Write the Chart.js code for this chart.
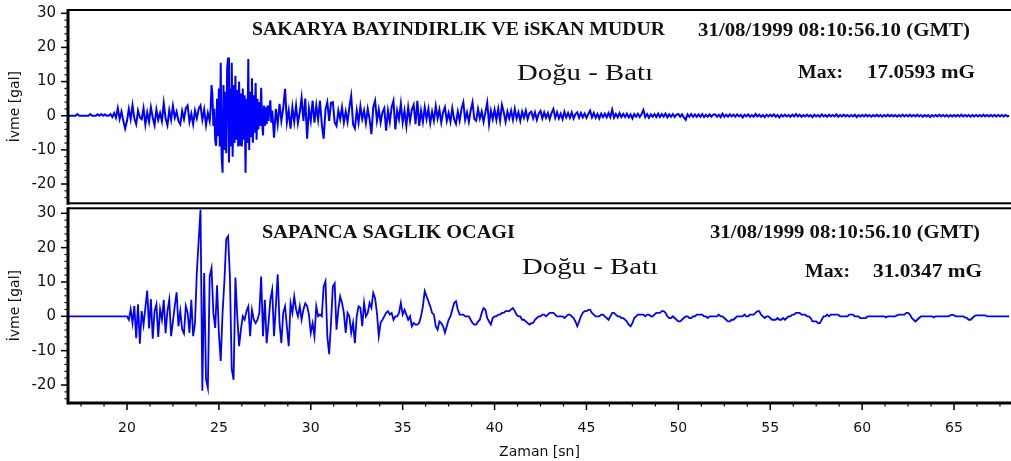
<!DOCTYPE html>
<html>
<head>
<meta charset="utf-8">
<script src="https://cdn.jsdelivr.net/npm/chart.js@4.4.1/dist/chart.umd.min.js"></script>
<style>
  html, body { margin: 0; padding: 0; background: #fff; overflow: hidden; }
  #wrap { position: relative; width: 1011px; height: 461px; background: #fff; }
  canvas { position: absolute; left: 0; }
  #topPanel { top: 0; width: 1011px; height: 206px; }
  #bottomPanel { top: 200px; width: 1011px; height: 261px; }
</style>
</head>
<body>
<div id="wrap">
  <canvas id="topPanel" width="1011" height="206"></canvas>
  <canvas id="bottomPanel" width="1011" height="261"></canvas>
</div>
<script>
// Station names and record header
const topStation = 'SAKARYA BAYINDIRLIK VE iSKAN MUDUR';
const bottomStation = 'SAPANCA SAGLIK OCAGI';
const recordTime = '31/08/1999 08:10:56.10 (GMT)';
const component = 'Doğu - Batı';

// Axis labels
const xLabelValues = [20, 25, 30, 35, 40, 45, 50, 55, 60, 65];
const yLabelValues = [-20, -10, 0, 10, 20, 30];

// Sakarya, east-west acceleration (gal)
// pre-event and P wave: 16.0 s to 24.4 s every 0.1 s
const sakaryaPre = [
  0, 0, 0, 0, 0, 0, 0, 0, 0, 0,
  0, 0, 0, 0.5, 0, 0, 0, 0, 0, 0,
  0.5, 0, 0, 0, 0.4, 0, 0.5, 0, 0.4, 0,
  0, 0.5, -0.4, 0.8, -0.6, 2.2, -1.0, 1.2, -1.5, -3.8,
  -1.5, 2.0, -1.0, 3.1, -0.8, -2.5, 1.5, -0.5, -1.0, 2.2,
  -2.6, 1.0, -1.8, 2.5, -0.5, -2.8, 1.8, -1.2, 0.8, -1.6,
  3.7, -0.8, -2.8, 1.6, -1.2, 2.9, -0.6, 1.2, -1.5, -2.5,
  1.4, -1.0, 2.2, 3.0, -1.8, 0.6, -2.5, 1.5, -0.8, 2.0,
  3.0, -1.2, 1.8, -2.8, 0.8
];
// strong motion: 24.5 s to 27.95 s every 0.05 s
const sakaryaStrong = [
  -1.5, 2.0, 9.0, 6.0, -3.0, 2.0, -7.3, -8.8, 5.0, -6.0,
  8.0, -9.0, 15.5, -12.0, -16.7, 9.0, -10.0, 7.0, -11.0, 14.0,
  17.0593, -13.7, 8.0, -9.0, 15.5, -12.0, 9.0, -8.0, 11.7, -7.0,
  7.5, -9.0, 10.0, -8.5, 6.5, -9.0, 8.0, -7.0, 6.0, -16.7,
  5.0, -8.0, 16.6, -10.0, 7.0, -6.0, 11.0, -7.9, 6.0, -5.0,
  9.6, -7.0, 5.0, -4.0, 4.0, -3.0, 8.2, -2.0, -5.8, 3.0,
  -3.0, 2.5, -2.5, 3.0, -1.5, 2.0, 4.5, -2.0, 1.5, -2.5
];
// coda: 28.0 s to 68.0 s every 0.1 s
const sakaryaCoda = [
  -6.4, 2.0, -2.5, 3.5, -1.5, 2.2, 7.9, -2.0, 1.5, -3.8,
  2.5, -1.8, 3.0, -2.2, 1.0, 5.3, -1.5, 5.0, -6.7, 2.0,
  -1.5, 4.4, -2.0, 3.0, -1.2, 4.4, -2.5, -6.7, 1.8, 4.0,
  -1.5, 3.8, 4.0, -2.0, -3.0, 1.5, -1.0, 2.5, -2.0, 1.2,
  -1.8, 2.5, 5.8, -2.5, -3.7, 1.5, -2.0, 2.8, -1.0, 1.5,
  -2.2, 2.0, -1.0, -5.4, 2.5, 4.4, -1.5, 1.8, -2.0, 1.0,
  2.2, -4.4, 1.5, -1.8, 2.5, 4.4, -4.0, 1.5, -1.0, 3.5,
  -2.0, 1.5, -3.0, 2.5, -1.5, 1.8, 3.2, -2.5, 4.4, -3.0,
  1.5, -1.8, 2.5, -1.0, 2.0, -2.2, 1.2, -1.5, 2.8, -0.8,
  1.8, -2.0, 1.0, 2.5, -1.5, 0.8, -1.8, 2.2, -1.0, -2.4,
  1.2, -1.5, 2.0, 3.9, -1.2, 1.0, -1.8, 1.5, 3.9, -1.0,
  -1.5, 2.0, -0.8, 1.2, -1.8, 1.0, 3.9, -2.4, 1.5, -1.0,
  1.8, -1.2, 2.0, -1.5, 3.2, 1.0, -1.8, 1.2, -0.8, 1.5,
  -1.2, 2.0, -0.8, 1.0, -1.5, 1.2, -0.6, 1.5, -1.0, 0.8,
  1.2, -0.8, 1.0, -1.2, 0.6, 1.4, -0.8, 1.0, -0.6, 0.8,
  -1.0, 0.8, 2.0, -0.6, 1.0, -0.8, 0.6, -1.0, 1.2, -0.5,
  0.8, -0.6, 1.0, -0.8, 0.5, 1.0, -0.6, 0.8, -0.5, 0.6,
  -0.6, 0.5, 1.5, -0.5, 0.8, -0.6, 0.5, -0.8, 0.6, -0.4,
  0.6, -0.5, 0.8, -0.4, 1.8, -0.6, 0.5, -0.5, 0.8, -0.4,
  0.5, -0.4, 0.6, -0.5, 0.4, -0.8, 0.5, -0.3, 0.6, -0.4,
  0.5, 1.7, -0.4, 0.5, -0.6, 0.4, -0.3, 0.5, -0.4, 0.6,
  -0.4, 0.5, -0.3, 0.6, -0.5, 0.4, -0.3, 0.5, -0.4, 0.3,
  0.5, -0.3, 0.4, -0.5, -1.2, 0.4, -0.3, 0.5, -0.3, 0.4,
  -0.3, 0.4, -0.3, 0.5, -0.4, 0.3, -0.3, 0.4, -0.3, 0.3,
  0.4, -0.3, 0.3, -0.4, 0.6, -0.3, 0.3, -0.3, 0.4, -0.2,
  0.3, -0.3, 0.4, -0.2, 0.3, -0.5, 0.3, -0.2, 0.4, -0.3,
  0.2, -0.3, 0.5, -0.2, 0.3, -0.3, 0.2, -0.4, 0.3, -0.2,
  0.3, -0.2, 0.4, -0.3, 0.2, -0.5, 0.3, -0.2, 0.3, -0.2,
  0.2, -0.3, 0.3, -0.2, 0.5, -0.2, 0.3, -0.3, 0.2, -0.2,
  0.3, -0.2, 0.2, -0.4, 0.3, -0.2, 0.2, -0.3, 0.4, -0.2,
  0.2, -0.3, 0.3, -0.2, 0.2, -0.2, 0.4, -0.3, 0.2, -0.2,
  0.3, -0.2, 0.2, -0.3, 0.2, -0.2, 0.3, -0.4, 0.2, -0.2,
  0.2, -0.2, 0.3, -0.2, 0.2, -0.3, 0.2, -0.2, 0.3, -0.2,
  0.2, -0.3, 0.2, -0.2, 0.3, -0.2, 0.2, -0.2, 0.2, -0.3,
  0.2, -0.2, 0.3, -0.2, 0.2, -0.2, 0.3, -0.2, 0.2, -0.2,
  0.3, -0.2, 0.2, -0.3, 0.2, -0.2, 0.2, -0.4, 0.2, -0.2,
  0.2, -0.2, 0.3, -0.2, 0.2, -0.2, 0.2, -0.3, 0.2, -0.2,
  0.2, -0.2, 0.2, -0.2, 0.3, -0.2, 0.2, -0.2, 0.2, -0.3,
  0.2, -0.2, 0.2, -0.2, 0.2, -0.2, 0.3, -0.2, 0.2, -0.2,
  0.2, -0.2, 0.2, -0.2, 0.2, -0.2, 0.2, -0.2, 0.2, -0.2,
  0
];

// Sapanca, east-west acceleration (gal): 16.0 s to 68.0 s every 0.1 s
const sapancaEW = [
  0, 0, 0, 0, 0, 0, 0, 0, 0, 0,
  0, 0, 0, 0, 0, 0, 0, 0, 0, 0,
  0, 0, 0, 0, 0, 0, 0, 0, 0, 0,
  0, 0, 0, 0, 0, 0, 0, 0, 0, 0,
  0, -1.0, 2.0, -2.0, 3.0, -6.4, 3.5, -8.0, 1.5, -2.5,
  2.5, 7.5, -3.5, 5.0, -6.5, 1.5, 3.5, -6.0, 2.0, -1.0,
  4.8, -4.9, 1.5, 4.8, -5.8, -1.5, 3.0, 7.0, -2.9, 1.5,
  -3.8, -5.0, 3.0, 1.0, -4.8, 4.8, -5.8, -2.0, 12.8, 22.0,
  31.0347, -21.7, 12.6, -18.4, -20.9, 11.6, 14.0, 1.0, -3.4, 9.0,
  -5.0, -13.0, 1.0, 10.2, 22.4, 23.3, 11.6, -15.4, -18.5, 11.3,
  0, -8.7, -3.8, 0, -1.0, 1.5, 2.9, -5.8, 1.9, -1.0,
  -2.0, -1.0, 1.0, 11.6, -5.8, 4.8, -7.8, -2.0, 4.8, 7.7,
  -5.8, 3.0, 12.2, -2.0, -7.8, 1.0, 2.9, -3.0, -8.7, 3.8,
  1.0, 5.8, 2.0, 0, 3.0, -1.0, 2.0, 3.8, 3.0, 0.5,
  -4.8, -2.0, -5.8, 2.9, 0, 0.5, 0, 8.7, 10.2, -5.8,
  -11.0, -2.0, 8.7, 9.6, -3.9, 2.0, 5.8, 3.9, 1.0, -4.8,
  1.0, 0, -4.8, -1.9, -7.8, 0, 2.9, 2.5, -2.9, 3.9,
  0, 1.0, 3.9, 2.5, 6.8, 5.3, 1.0, -5.8, -1.9, -1.0,
  0, 1.0, 1.5, 0.5, 1.0, -1.0, 0, 0, 1.0, 3.9,
  0.5, 1.9, 0.5, -1.0, 0, -2.9, -1.9, -2.4, -2.4, -1.9,
  0, 2.9, 7.3, 5.8, 4.4, 2.9, 1.0, 0.5, -2.9, -3.9,
  -1.5, -2.0, -2.9, -4.8, -2.9, -1.0, 0, 1.9, 3.9, 4.4,
  2.0, 0.5, 0.5, 0.5, 0, 0, 0, -1.0, -1.9, -2.4,
  -2.4, -1.5, -1.0, 1.0, 2.4, 2.0, -0.5, -1.5, -2.4, -0.5,
  0, 0, 0.5, 0.5, 1.0, 1.0, 1.5, 1.5, 1.5, 2.0,
  2.4, 1.5, 0.5, 0, 0, -1.0, -1.0, -1.5, -2.0, -2.4,
  -2.0, -1.9, -1.0, -0.5, 0, 0, 0.5, 0.5, 0, 0.5,
  1.0, 1.0, 1.0, 0.5, 0, 0, 0, 0, -0.5, 0,
  0.5, 0.5, 0, -0.5, -1.5, -2.9, -1.5, 0, 1.0, 1.5,
  1.5, 1.9, 1.9, 1.0, 0.5, 0, 0, 0, 0.5, 0.5,
  0, -0.5, -1.0, 0, 1.0, 1.0, 0.5, 0, 0, -0.5,
  -0.5, -1.0, -1.5, -2.4, -2.9, -2.0, -0.5, 0, 0.5, 0.5,
  0.5, 0.5, 0, 0.5, 0.5, 0, 0, 0.5, 1.0, 1.0,
  1.0, 1.5, 1.5, 1.0, 0, -0.5, -0.5, 0, -0.5, -1.0,
  -1.5, -1.5, -1.0, -0.5, 0, 0, -0.5, -0.5, 0, 0,
  0.5, 0.5, 0.5, 0.5, 0, 0, -0.5, 0, 0, 0,
  0, 0, 0.5, 0, 0, -0.5, -1.0, -1.5, -1.5, -1.0,
  -1.0, -0.5, 0, 0, 0, 0, 0.5, 0, 0, 0.5,
  0.5, 0.5, 1.0, 1.5, 1.5, 0.5, 0, -0.5, 0, 0,
  -0.5, -1.0, -1.0, -1.0, -0.5, -1.0, -1.0, -0.5, -1.0, -0.5,
  0, 0, 0.5, 0.5, 1.0, 1.0, 1.0, 0.5, 0.5, 0.5,
  0, 0, -0.5, -1.5, -1.5, -1.5, -2.0, -2.0, -1.0, 0,
  0, 0.5, 0, 0.5, 0.5, 0.5, 0.5, 0.5, 0, 0,
  0, 0, 0, 0.5, 0.5, 0.5, 0, 0, 0, -0.5,
  -0.5, -0.5, -0.5, 0, 0, 0, 0, 0, 0, 0,
  0, 0, 0, -0.3, 0, 0, 0, 0, 0, 0.3,
  0.5, 0.5, 0.5, 0.5, 1.0, 1.0, 0.5, -0.5, -1.0, -1.5,
  -1.0, -0.5, 0, 0, 0, 0, 0, 0, 0, -0.3,
  0, 0, 0, 0, 0, 0, 0, 0, 0.3, 0.5,
  0.3, 0, 0, 0, 0, 0, -0.3, -0.5, -1.0, -1.0,
  -0.5, 0, 0.3, 0.3, 0.3, 0.3, 0.3, 0.3, 0, 0,
  0, 0, 0, 0, 0, 0, 0, 0, 0, 0,
  0
];

// ---- helpers ----
// turns a uniformly sampled block into {x, y} points
const segment = (start, step, vals) => vals.map((v, i) => ({ x: +(start + i * step).toFixed(3), y: v }));
const isLabel = (list, v) => list.some(l => Math.abs(l - v) < 1e-6);
const peakText = pts => Math.max(...pts.map(p => Math.abs(p.y))).toFixed(4) + ' mG';

const sakaryaPoints = [
  ...segment(16.0, 0.1, sakaryaPre),
  ...segment(24.5, 0.05, sakaryaStrong),
  ...segment(28.0, 0.1, sakaryaCoda)
];
const sapancaPoints = segment(16.0, 0.1, sapancaEW);

const axisFont = 'DejaVu Sans';
const boldSerif = 'bold 18px "Liberation Serif"';
const plainSerif = '23px "Liberation Serif"';

// Draws a string stretched to fill [x0, x1] on the given baseline
function fittedText(ctx, text, x0, x1, base, font) {
  ctx.save();
  ctx.font = font;
  ctx.textAlign = 'left';
  ctx.textBaseline = 'alphabetic';
  const w = ctx.measureText(text).width;
  ctx.translate(x0, base);
  ctx.scale((x1 - x0) / w, 1);
  ctx.fillText(text, 0, 0);
  ctx.restore();
}

// Panel frame, tick marks and header texts
const panelFrame = {
  id: 'panelFrame',
  afterDraw(chart, args, opts) {
    const { ctx, chartArea: a, scales: { x, y } } = chart;
    ctx.save();
    ctx.fillStyle = '#000';
    y.ticks.forEach(t => {
      const py = y.getPixelForValue(t.value);
      if (isLabel(yLabelValues, t.value)) ctx.fillRect(a.left - 7, py - 0.75, 6, 1.5);
      else ctx.fillRect(a.left - 3.5, py - 0.6, 2.2, 1.2);
    });
    if (opts.xTicks) {
      x.ticks.forEach(t => {
        const px = x.getPixelForValue(t.value);
        if (isLabel(xLabelValues, t.value)) ctx.fillRect(px - 0.75, a.bottom + 1, 1.5, 6);
        else ctx.fillRect(px - 0.6, a.bottom + 1, 1.2, 2.5);
      });
    }
    ctx.fillRect(a.left - 1.5, a.top - 1, 3, a.bottom - a.top + 2.5);
    ctx.fillRect(a.left, a.top - opts.topW / 2, a.right - a.left, opts.topW);
    ctx.fillRect(a.left, a.bottom - opts.bottomW / 2, a.right - a.left, opts.bottomW);
    ctx.fillStyle = '#111';
    opts.notes.forEach(n => fittedText(ctx, n.text, n.x0, n.x1, n.base, n.font));
    ctx.restore();
  }
};

function panelChart(id, points, yMin, yMax, lineWidth, cfg) {
  return new Chart(document.getElementById(id), {
    type: 'line',
    data: {
      datasets: [{
        data: points,
        borderColor: '#0000ff',
        borderWidth: lineWidth,
        pointRadius: 0,
        tension: 0,
        fill: false
      }]
    },
    options: {
      responsive: false,
      animation: false,
      events: [],
      layout: { padding: cfg.padding },
      plugins: {
        legend: { display: false },
        tooltip: { enabled: false },
        panelFrame: { xTicks: cfg.showX, topW: 2, bottomW: cfg.bottomW, notes: cfg.notes }
      },
      scales: {
        x: {
          type: 'linear',
          min: 16.79,
          max: 68.1,
          display: cfg.showX,
          afterFit: s => {
            if (cfg.showX) s.height = 58;
            s.paddingLeft = 0; s.paddingRight = 0;
          },
          grid: { display: false, drawTicks: false },
          border: { display: false },
          ticks: {
            stepSize: 1.25,
            includeBounds: false,
            autoSkip: false,
            minRotation: 0,
            maxRotation: 0,
            padding: 17,
            color: '#111',
            font: { family: axisFont, size: 14 },
            callback: v => isLabel(xLabelValues, v) ? String(Math.round(v)) : ''
          },
          title: {
            display: true,
            text: 'Zaman [sn]',
            color: '#111',
            font: { family: axisFont, size: 14 },
            padding: { top: 0, bottom: 0.6 }
          }
        },
        y: {
          type: 'linear',
          min: yMin,
          max: yMax,
          afterFit: s => {
            s.width = 68;
            s.paddingTop = 0; s.paddingBottom = 0;
          },
          grid: { display: false, drawTicks: false },
          border: { display: false },
          ticks: {
            stepSize: 2,
            includeBounds: false,
            autoSkip: false,
            padding: 12,
            color: '#111',
            font: { family: axisFont, size: 15 },
            callback: v => isLabel(yLabelValues, v) ? String(Math.round(v)) : ''
          },
          title: {
            display: true,
            text: 'İvme [gal]',
            color: '#111',
            font: { family: axisFont, size: 14 },
            padding: { top: 6.6, bottom: 0 }
          }
        }
      }
    },
    plugins: [panelFrame]
  });
}

panelChart('topPanel', sakaryaPoints, -25.65, 30.97, 2.0, {
  showX: false,
  bottomW: 2,
  padding: { top: 10, bottom: 2.7, left: 0, right: 0 },
  notes: [
    { text: topStation, x0: 252, x1: 665, base: 35, font: boldSerif },
    { text: recordTime, x0: 698, x1: 970, base: 36, font: boldSerif },
    { text: component, x0: 517, x1: 653, base: 80, font: plainSerif },
    { text: 'Max:', x0: 798, x1: 843, base: 77.5, font: boldSerif },
    { text: peakText(sakaryaPoints), x0: 867, x1: 975, base: 77.5, font: boldSerif }
  ]
});

panelChart('bottomPanel', sapancaPoints, -25.24, 31.45, 1.8, {
  showX: true,
  bottomW: 3,
  padding: { top: 8.3, bottom: 0, left: 0, right: 0 },
  notes: [
    { text: bottomStation, x0: 262, x1: 515, base: 38.3, font: boldSerif },
    { text: recordTime, x0: 710, x1: 980, base: 38.3, font: boldSerif },
    { text: component, x0: 522, x1: 658, base: 74, font: plainSerif },
    { text: 'Max:', x0: 805, x1: 850, base: 77.3, font: boldSerif },
    { text: peakText(sapancaPoints), x0: 873, x1: 982, base: 77.3, font: boldSerif }
  ]
});
</script>
</body>
</html>
